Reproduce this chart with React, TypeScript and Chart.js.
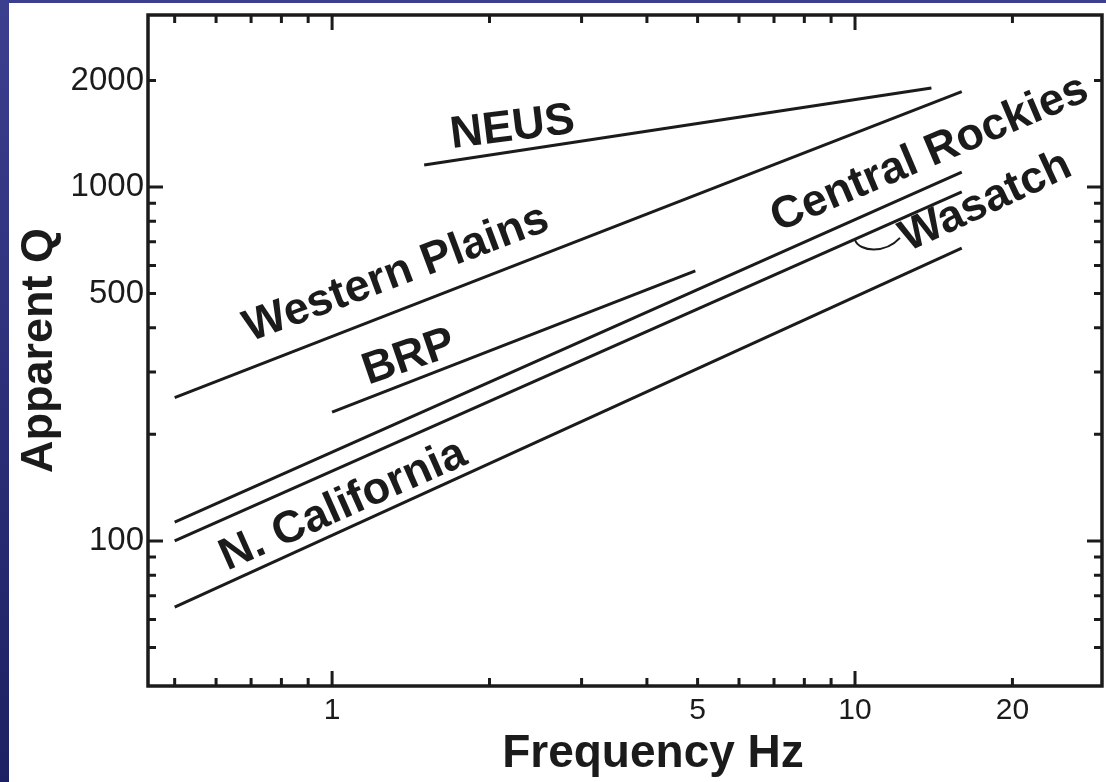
import React, { useEffect, useRef } from "react";
import { Chart, registerables } from "chart.js";

Chart.register(...registerables);

// ---- data (frequency in Hz, apparent Q) ----
const neusFreq = [1.5, 14.0];
const neusQ = [1154, 1905];
const westernPlainsFreq = [0.5, 16];
const westernPlainsQ = [254, 1860];
const brpFreq = [1.0, 4.95];
const brpQ = [231, 579];
const centralRockiesFreq = [0.5, 16];
const centralRockiesQ = [113, 1102];
const wasatchFreq = [0.5, 16];
const wasatchQ = [100, 968];
const nCaliforniaFreq = [0.5, 16];
const nCaliforniaQ = [65, 672];

const xTickLabels = [1, 5, 10, 20];
const yTickLabels = [100, 500, 1000, 2000];
const xMajorTicks = [1, 10];
const xMinorTicks = [0.5, 0.6, 0.7, 0.8, 0.9, 2, 3, 4, 5, 6, 7, 8, 9, 20];
const yMajorTicks = [100, 1000];
const yMinorTicks = [50, 60, 70, 80, 90, 200, 300, 400, 500, 600, 700, 800, 900, 2000];

// ---- styling / annotation placement ----
const INK = "#1b1b1b";
const FONT = "'Liberation Sans', Arial, Helvetica, sans-serif";

const seriesLabels = [
  { text: "NEUS", f: 1.696, q: 1289, angle: -7 },
  { text: "Western Plains", f: 0.697, q: 365, angle: -20.5 },
  { text: "BRP", f: 1.172, q: 276, angle: -19 },
  { text: "Central Rockies", f: 7.125, q: 746, angle: -23 },
  { text: "Wasatch", f: 12.63, q: 655, angle: -25 },
  { text: "N. California", f: 0.63, q: 82.3, angle: -24 },
];

const wasatchLeader = {
  start: { f: 10.0, q: 708 },
  cp1: { f: 10.22, q: 655 },
  cp2: { f: 11.41, q: 647 },
  end: { f: 12.19, q: 718 },
};

const toPoints = (fs: number[], qs: number[]) => fs.map((f, i) => ({ x: f, y: qs[i] }));

const overlayPlugin = {
  id: "overlay",
  afterDraw(chart: any) {
    const { ctx, chartArea: a, scales } = chart;
    const xs = scales.x;
    const ys = scales.y;
    ctx.save();
    ctx.strokeStyle = INK;
    ctx.fillStyle = INK;
    ctx.lineCap = "butt";
    ctx.lineWidth = 3;

    const xTick = (v: number, len: number) => {
      const px = xs.getPixelForValue(v);
      ctx.beginPath();
      ctx.moveTo(px, a.bottom);
      ctx.lineTo(px, a.bottom - len);
      ctx.moveTo(px, a.top);
      ctx.lineTo(px, a.top + len);
      ctx.stroke();
    };
    const yTick = (v: number, len: number) => {
      const py = ys.getPixelForValue(v);
      ctx.beginPath();
      ctx.moveTo(a.left, py);
      ctx.lineTo(a.left + len, py);
      ctx.moveTo(a.right, py);
      ctx.lineTo(a.right - len, py);
      ctx.stroke();
    };
    xMinorTicks.forEach((v) => xTick(v, 8));
    xMajorTicks.forEach((v) => xTick(v, 15));
    yMinorTicks.forEach((v) => yTick(v, 8));
    yMajorTicks.forEach((v) => yTick(v, 15));

    ctx.lineWidth = 3.5;
    ctx.strokeRect(a.left, a.top, a.right - a.left, a.bottom - a.top);

    // series labels
    ctx.font = `bold 45px ${FONT}`;
    ctx.textAlign = "left";
    ctx.textBaseline = "alphabetic";
    seriesLabels.forEach((l) => {
      const px = xs.getPixelForValue(l.f);
      const py = ys.getPixelForValue(l.q);
      ctx.save();
      ctx.translate(px, py);
      ctx.rotate((l.angle * Math.PI) / 180);
      ctx.fillText(l.text, 0, 0);
      ctx.restore();
    });

    // Wasatch leader curl
    const P = (p: { f: number; q: number }) => [xs.getPixelForValue(p.f), ys.getPixelForValue(p.q)];
    const s = P(wasatchLeader.start);
    const c1 = P(wasatchLeader.cp1);
    const c2 = P(wasatchLeader.cp2);
    const e = P(wasatchLeader.end);
    ctx.lineWidth = 2;
    ctx.beginPath();
    ctx.moveTo(s[0], s[1]);
    ctx.bezierCurveTo(c1[0], c1[1], c2[0], c2[1], e[0], e[1]);
    ctx.stroke();

    // x axis title
    ctx.font = `bold 46px ${FONT}`;
    ctx.textAlign = "center";
    ctx.textBaseline = "alphabetic";
    ctx.fillText("Frequency Hz", (a.left + a.right) / 2 + 28, 767);

    ctx.restore();
  },
};

export default function App() {
  const ref = useRef<HTMLCanvasElement | null>(null);

  useEffect(() => {
    if (!ref.current) return;
    const lineStyle = {
      borderColor: INK,
      borderWidth: 3,
      pointRadius: 0,
      pointHoverRadius: 0,
      tension: 0,
      fill: false,
    };
    const chart = new Chart(ref.current, {
      type: "line",
      data: {
        datasets: [
          { label: "NEUS", data: toPoints(neusFreq, neusQ), ...lineStyle },
          { label: "Western Plains", data: toPoints(westernPlainsFreq, westernPlainsQ), ...lineStyle },
          { label: "BRP", data: toPoints(brpFreq, brpQ), ...lineStyle },
          { label: "Central Rockies", data: toPoints(centralRockiesFreq, centralRockiesQ), ...lineStyle },
          { label: "Wasatch", data: toPoints(wasatchFreq, wasatchQ), ...lineStyle },
          { label: "N. California", data: toPoints(nCaliforniaFreq, nCaliforniaQ), ...lineStyle },
        ],
      },
      options: {
        animation: false,
        responsive: false,
        devicePixelRatio: 1,
        layout: { padding: { left: 0, top: 15, right: 4, bottom: 0 } },
        plugins: {
          legend: { display: false },
          tooltip: { enabled: false },
          title: { display: false },
        },
        events: [],
        scales: {
          x: {
            type: "logarithmic",
            position: "bottom",
            min: 0.4446,
            max: 29.67,
            bounds: "data",
            grid: { display: false, drawTicks: false },
            border: { display: false },
            ticks: {
              autoSkip: false,
              maxRotation: 0,
              color: INK,
              padding: 7,
              font: { size: 30, family: FONT },
              callback: (v: any) => String(v),
            },
            afterBuildTicks: (s: any) => {
              s.ticks = xTickLabels.map((v) => ({ value: v }));
            },
            afterFit: (s: any) => {
              s.height = 96;
              s.paddingLeft = 0;
              s.paddingRight = 0;
            },
          },
          y: {
            type: "logarithmic",
            position: "left",
            min: 38.9,
            max: 3061,
            bounds: "data",
            grid: { display: false, drawTicks: false },
            border: { display: false },
            ticks: {
              autoSkip: false,
              color: INK,
              padding: 4,
              font: { size: 33, family: FONT },
              callback: (v: any) => String(v),
            },
            afterBuildTicks: (s: any) => {
              s.ticks = yTickLabels.map((v) => ({ value: v }));
            },
            afterFit: (s: any) => {
              s.width = 148;
              s.paddingTop = 0;
              s.paddingBottom = 0;
            },
            title: {
              display: true,
              text: "Apparent Q",
              color: INK,
              font: { size: 45, weight: "bold", family: FONT },
              padding: { top: 13, bottom: 0 },
            },
          },
        },
      } as any,
      plugins: [overlayPlugin],
    });
    return () => chart.destroy();
  }, []);

  return (
    <div
      style={{
        position: "fixed",
        left: 0,
        top: 0,
        width: 1106,
        height: 782,
        background: "linear-gradient(180deg, #3b3f8e 0%, #2c2f78 50%, #1d2062 100%)",
        overflow: "hidden",
      }}
    >
      <div
        style={{
          position: "absolute",
          left: 9,
          top: 3,
          right: 0,
          bottom: 0,
          background: "#ffffff",
        }}
      />
      <canvas
        ref={ref}
        width={1106}
        height={782}
        style={{ position: "absolute", left: 0, top: 0, width: 1106, height: 782 }}
      />
    </div>
  );
}
